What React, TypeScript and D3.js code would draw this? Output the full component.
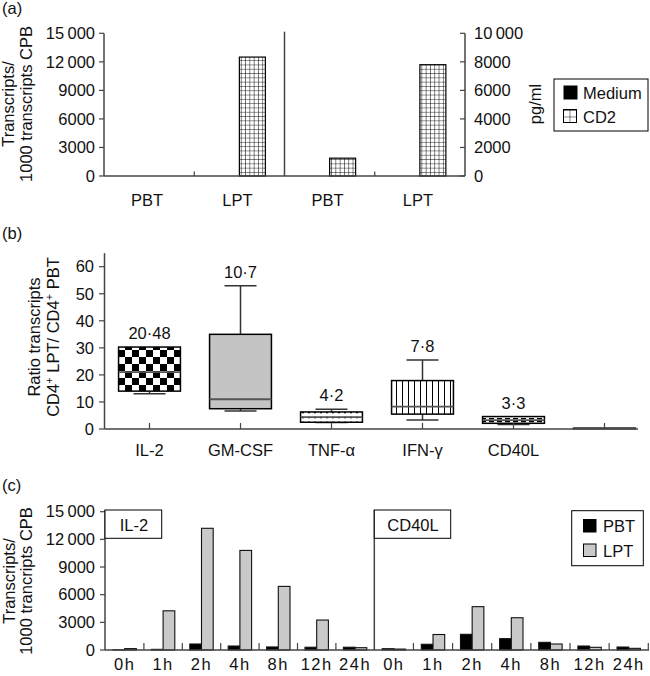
import React from 'react';
import * as d3 from 'd3';

// ---------- Panel (a) ----------
const aCategories = ['PBT', 'LPT', 'PBT', 'LPT'];
const aAxisSide = ['left', 'left', 'right', 'right'];
const aSeries = ['Medium', 'CD2'];
const aMedium = [0, 0, 0, 0];
const aCD2 = [0, 12500, 1250, 7800];
const aLeftTicks = [0, 3000, 6000, 9000, 12000, 15000];
const aLeftTickLabels = ['0', '3000', '6000', '9000', '12\u2009000', '15\u2009000'];
const aRightTicks = [0, 2000, 4000, 6000, 8000, 10000];
const aRightTickLabels = ['0', '2000', '4000', '6000', '8000', '10\u2009000'];

// ---------- Panel (b) ----------
const bCategories = ['IL-2', 'GM-CSF', 'TNF-α', 'IFN-γ', 'CD40L', ''];
const bMin = [13, 6.7, 2.4, 3.3, 1.7, 0.3];
const bQ1 = [14, 7.5, 2.5, 5.5, 2.1, 0.3];
const bMedian = [21, 11, 4.4, 8.3, 3.3, 0.3];
const bQ3 = [30.3, 35, 6.3, 17.9, 4.6, 0.3];
const bMax = [30.3, 53, 7.3, 25.5, 4.6, 0.3];
const bLabels = ['20·48', '10·7', '4·2', '7·8', '3·3', ''];
const bTicks = [0, 10, 20, 30, 40, 50, 60];

// ---------- Panel (c) ----------
const cTimes = ['0h', '1h', '2h', '4h', '8h', '12h', '24h'];
const cPanels = ['IL-2', 'CD40L'];
const cSeries = ['PBT', 'LPT'];
const cIL2PBT = [20, 70, 650, 430, 330, 300, 300];
const cIL2LPT = [150, 4250, 13200, 10800, 6900, 3250, 250];
const cCD40PBT = [140, 620, 1700, 1230, 830, 430, 320];
const cCD40LPT = [100, 1680, 4700, 3500, 650, 290, 180];
const cTicks = [0, 3000, 6000, 9000, 12000, 15000];
const cTickLabels = ['0', '3000', '6000', '9000', '12\u2009000', '15\u2009000'];

const FONT = '"Liberation Sans", Arial, Helvetica, sans-serif';
const AX = '#444';
const GREY = '#c9c9c9';

export default function App() {
  // ----- scales panel a -----
  const xA = d3.scaleBand<number>().domain(d3.range(aCategories.length)).range([104, 465]);
  const yAL = d3.scaleLinear().domain([0, 15000]).range([176, 33.3]);
  const yAR = d3.scaleLinear().domain([0, 10000]).range([176, 33.3]);
  const aSub = d3.scaleBand<string>().domain(aSeries).range([-26, 26]);
  const aVals = [aMedium, aCD2];

  // ----- scales panel b -----
  const xB = d3.scaleBand<number>().domain(d3.range(bCategories.length)).range([104, 650]);
  const yB = d3.scaleLinear().domain([0, 60]).range([429, 266.7]);
  const boxW = xB.bandwidth() * 0.68;
  const capW = 32;
  const bFills = ['url(#checker)', '#c4c4c4', 'url(#dots)', 'url(#vlines)', 'url(#dashes)', 'white'];

  // ----- scales panel c -----
  const xCs = [
    d3.scaleBand<string>().domain(cTimes).range([105.5, 374.3]),
    d3.scaleBand<string>().domain(cTimes).range([374.3, 648.3]),
  ];
  const yC = d3.scaleLinear().domain([0, 15000]).range([650, 511.7]);
  const cSub = d3.scaleBand<string>().domain(cSeries).range([-11.7, 11.7]);
  const cVals = [
    [cIL2PBT, cIL2LPT],
    [cCD40PBT, cCD40LPT],
  ];

  return (
    <svg
      width={650}
      height={676}
      style={{ position: 'absolute', left: 0, top: 0, background: 'white' }}
      fontFamily={FONT}
      fontSize={16.5}
      fill="#111"
    >
      <defs>
        <pattern id="grid" patternUnits="userSpaceOnUse" width={4.3} height={4.3}>
          <rect width={4.3} height={4.3} fill="white" />
          <path d="M0,0H4.3M0,0V4.3" stroke="black" strokeWidth={1} />
        </pattern>
        <pattern id="gridBig" patternUnits="userSpaceOnUse" width={6.5} height={6.5} x={563} y={110}>
          <rect width={6.5} height={6.5} fill="white" />
          <path d="M0,0H6.5M0,0V6.5" stroke="black" strokeWidth={1} />
        </pattern>
        <pattern id="checker" patternUnits="userSpaceOnUse" width={14} height={14} x={118} y={0}>
          <rect width={14} height={14} fill="white" />
          <rect width={7} height={7} fill="black" />
          <rect x={7} y={7} width={7} height={7} fill="black" />
        </pattern>
        <pattern id="dots" patternUnits="userSpaceOnUse" width={6} height={5}>
          <rect width={6} height={5} fill="white" />
          <circle cx={3} cy={2.5} r={1} fill="black" />
        </pattern>
        <pattern id="vlines" patternUnits="userSpaceOnUse" width={6} height={6}>
          <rect width={6} height={6} fill="white" />
          <path d="M0.5,0V6" stroke="black" strokeWidth={1} />
        </pattern>
        <pattern id="dashes" patternUnits="userSpaceOnUse" width={8} height={3}>
          <rect width={8} height={3} fill="white" />
          <rect x={1} y={1} width={5} height={1.2} fill="black" />
        </pattern>
      </defs>

      {/* ================= Panel (a) ================= */}
      <text x={2} y={14}>(a)</text>
      <g>
        <text transform={`translate(14,104) rotate(-90)`} textAnchor="middle">Transcripts/</text>
        <text transform={`translate(32,104) rotate(-90)`} textAnchor="middle">1000 transcripts CPB</text>
        <text transform={`translate(541,104) rotate(-90)`} textAnchor="middle">pg/ml</text>
      </g>
      {aCategories.map((c, i) => {
        const y = aAxisSide[i] === 'left' ? yAL : yAR;
        const cx = (xA(i) as number) + xA.bandwidth() / 2;
        return aSeries.map((s, si) => {
          const v = aVals[si][i];
          if (v <= 0) return null;
          return (
            <rect
              key={`a-${i}-${s}`}
              x={cx + (aSub(s) as number)}
              y={y(v)}
              width={aSub.bandwidth()}
              height={y(0) - y(v)}
              fill={s === 'Medium' ? 'black' : 'url(#grid)'}
              stroke="black"
              strokeWidth={1.2}
            />
          );
        });
      })}
      <line x1={104} x2={104} y1={yAL(15000)} y2={yAL(0)} stroke={AX} strokeWidth={1.5} />
      <line x1={465} x2={465} y1={yAR(10000)} y2={yAR(0)} stroke={AX} strokeWidth={1.5} />
      <line x1={xA(2) as number} x2={xA(2) as number} y1={31.7} y2={yAL(0)} stroke={AX} strokeWidth={1.5} />
      <line x1={104} x2={465} y1={yAL(0)} y2={yAL(0)} stroke={AX} strokeWidth={1.5} />
      {[1, 3].map((i) => (
        <line key={`at${i}`} x1={xA(i) as number} x2={xA(i) as number} y1={yAL(0)} y2={yAL(0) - 4.5} stroke={AX} strokeWidth={1.2} />
      ))}
      {aLeftTicks.map((t, i) => (
        <g key={`alt${t}`}>
          <line x1={99} x2={104} y1={yAL(t)} y2={yAL(t)} stroke={AX} strokeWidth={1.2} />
          <text x={95} y={yAL(t)} dy="0.35em" textAnchor="end">{aLeftTickLabels[i]}</text>
        </g>
      ))}
      {aRightTicks.map((t, i) => (
        <g key={`art${t}`}>
          <line x1={460} x2={465} y1={yAR(t)} y2={yAR(t)} stroke={AX} strokeWidth={1.2} />
          <text x={474} y={yAR(t)} dy="0.35em" textAnchor="start">{aRightTickLabels[i]}</text>
        </g>
      ))}
      {aCategories.map((c, i) => (
        <text key={`acl${i}`} x={(xA(i) as number) + xA.bandwidth() / 2 - 2} y={206} textAnchor="middle">{c}</text>
      ))}
      <rect x={554} y={79} width={94} height={52} fill="white" stroke="black" strokeWidth={1} />
      <rect x={563.5} y={85.5} width={14} height={14} fill="black" />
      <text x={583} y={99}>Medium</text>
      <rect x={563.5} y={109.5} width={13} height={13} fill="url(#gridBig)" stroke="black" strokeWidth={1} />
      <text x={583} y={123}>CD2</text>

      {/* ================= Panel (b) ================= */}
      <text x={2} y={239}>(b)</text>
      <text transform={`translate(40,337) rotate(-90)`} textAnchor="middle">Ratio transcripts</text>
      <text transform={`translate(59,337) rotate(-90)`} textAnchor="middle">
        CD4<tspan fontSize={11} dy={-6}>+</tspan><tspan dy={6}> LPT/ CD4</tspan>
        <tspan fontSize={11} dy={-6}>+</tspan><tspan dy={6}> PBT</tspan>
      </text>
      {bCategories.map((c, i) => {
        const cx = (xB(i) as number) + xB.bandwidth() / 2;
        const x0 = cx - boxW / 2;
        return (
          <g key={`box${i}`}>
            <line x1={cx} x2={cx} y1={yB(bMax[i])} y2={yB(bQ3[i])} stroke="#333" strokeWidth={1.5} />
            <line x1={cx} x2={cx} y1={yB(bQ1[i])} y2={yB(bMin[i])} stroke="#333" strokeWidth={1.5} />
            {bMax[i] > bQ3[i] && (
              <line x1={cx - capW / 2} x2={cx + capW / 2} y1={yB(bMax[i])} y2={yB(bMax[i])} stroke="#333" strokeWidth={1.5} />
            )}
            {bMin[i] < bQ1[i] && (
              <line x1={cx - capW / 2} x2={cx + capW / 2} y1={yB(bMin[i])} y2={yB(bMin[i])} stroke="#333" strokeWidth={1.5} />
            )}
            <rect
              x={x0}
              y={yB(bQ3[i])}
              width={boxW}
              height={Math.max(yB(bQ1[i]) - yB(bQ3[i]), 0.5)}
              fill={bFills[i]}
              stroke="black"
              strokeWidth={1.5}
            />
            <line x1={x0} x2={x0 + boxW} y1={yB(bMedian[i])} y2={yB(bMedian[i])} stroke="#555" strokeWidth={1.8} />
            <line x1={cx} x2={cx} y1={yB(0)} y2={yB(0) - 6} stroke={AX} strokeWidth={1.2} />
            {bLabels[i] && (
              <text x={cx} y={yB(bMax[i]) - 8} textAnchor="middle">{bLabels[i]}</text>
            )}
            <text x={cx} y={456} textAnchor="middle">{c}</text>
          </g>
        );
      })}
      <line x1={104.5} x2={104.5} y1={yB(65)} y2={yB(0)} stroke={AX} strokeWidth={1.5} />
      <line x1={104.5} x2={638} y1={yB(0)} y2={yB(0)} stroke={AX} strokeWidth={1.5} />
      {bTicks.map((t) => (
        <g key={`bt${t}`}>
          <line x1={99} x2={104.5} y1={yB(t)} y2={yB(t)} stroke={AX} strokeWidth={1.2} />
          <text x={94} y={yB(t)} dy="0.35em" textAnchor="end">{t}</text>
        </g>
      ))}

      {/* ================= Panel (c) ================= */}
      <text x={2} y={491}>(c)</text>
      <text transform={`translate(15,581) rotate(-90)`} textAnchor="middle">Transcripts/</text>
      <text transform={`translate(32,581) rotate(-90)`} textAnchor="middle">1000 trancripts CPB</text>
      {cPanels.map((p, pi) => {
        const xC = xCs[pi];
        return (
          <g key={`cp${pi}`}>
            {cTimes.map((t, ti) => {
              const cx = (xC(t) as number) + xC.bandwidth() / 2;
              return (
                <g key={`c${pi}-${t}`}>
                  {cSeries.map((s, si) => {
                    const v = cVals[pi][si][ti];
                    return (
                      <rect
                        key={s}
                        x={cx + (cSub(s) as number)}
                        y={yC(v)}
                        width={cSub.bandwidth()}
                        height={yC(0) - yC(v)}
                        fill={s === 'PBT' ? 'black' : GREY}
                        stroke="#111"
                        strokeWidth={1.1}
                      />
                    );
                  })}
                  <text x={cx} y={670} textAnchor="middle" letterSpacing={1.5}>{t}</text>
                  {ti > 0 && (
                    <line x1={xC(t) as number} x2={xC(t) as number} y1={yC(0)} y2={yC(0) - 7} stroke={AX} strokeWidth={1.2} />
                  )}
                </g>
              );
            })}
          </g>
        );
      })}
      <line x1={648.3} x2={648.3} y1={yC(0)} y2={yC(0) - 7} stroke={AX} strokeWidth={1.2} />
      <line x1={105} x2={105} y1={510} y2={yC(0)} stroke={AX} strokeWidth={1.5} />
      <line x1={374.3} x2={374.3} y1={510} y2={yC(0)} stroke={AX} strokeWidth={1.5} />
      <line x1={105} x2={649} y1={yC(0)} y2={yC(0)} stroke={AX} strokeWidth={1.5} />
      {cTicks.map((t, i) => (
        <g key={`ct${t}`}>
          <line x1={100} x2={105} y1={yC(t)} y2={yC(t)} stroke={AX} strokeWidth={1.2} />
          <text x={95} y={yC(t)} dy="0.35em" textAnchor="end">{cTickLabels[i]}</text>
        </g>
      ))}
      <rect x={105} y={510} width={56.7} height={28.3} fill="white" stroke="black" strokeWidth={1} />
      <text x={134} y={531} textAnchor="middle">{cPanels[0]}</text>
      <rect x={374.3} y={510} width={76.4} height={28.3} fill="white" stroke="black" strokeWidth={1} />
      <text x={413} y={531} textAnchor="middle">{cPanels[1]}</text>
      <rect x={571.7} y={510.7} width={71.6} height={55} fill="white" stroke="black" strokeWidth={1} />
      <rect x={583} y={519} width={13.5} height={13.5} fill="black" />
      <text x={603} y={532}>PBT</text>
      <rect x={583.5} y={544} width={12.5} height={12.5} fill={GREY} stroke="black" strokeWidth={1} />
      <text x={603} y={557}>LPT</text>
    </svg>
  );
}
